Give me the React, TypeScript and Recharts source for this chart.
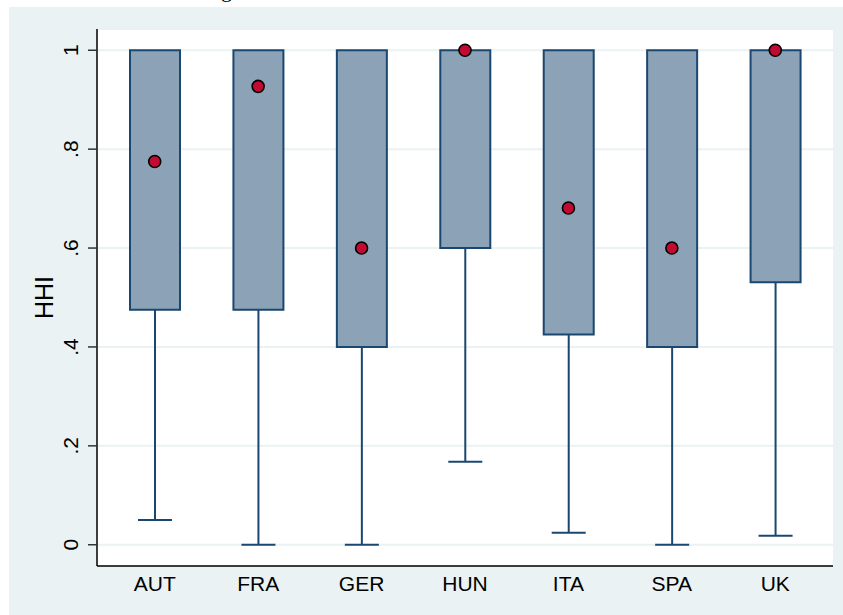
import React from "react";
import {
  Bar,
  CartesianGrid,
  ComposedChart,
  Scatter,
  XAxis,
  YAxis,
} from "recharts";

// HHI distribution by country (box = q1..q3, whisker down to min, red dot = marker value)
const countries = ["AUT", "FRA", "GER", "HUN", "ITA", "SPA", "UK"];
const minValues = [0.05, 0, 0, 0.168, 0.024, 0, 0.018];
const q1Values = [0.475, 0.475, 0.4, 0.6, 0.425, 0.4, 0.531];
const q3Values = [1, 1, 1, 1, 1, 1, 1];
const maxValues = [1, 1, 1, 1, 1, 1, 1];
const dotValues = [0.775, 0.927, 0.6, 1, 0.681, 0.6, 1];
const yTicks = [0, 0.2, 0.4, 0.6, 0.8, 1];

const data = countries.map((name, i) => ({
  name,
  base: minValues[i],
  lower: q1Values[i] - minValues[i],
  box: q3Values[i] - q1Values[i],
  upper: maxValues[i] - q3Values[i],
  dot: dotValues[i],
}));

const FONT = "'Liberation Sans', Arial, sans-serif";
const NAVY = "#1A476F";

const fmtTick = (v: number) => {
  if (v === 0) return "0";
  if (v === 1) return "1";
  return v.toFixed(1).replace(/^0/, "");
};

const YTick = (props: any) => {
  const { x, y, payload } = props;
  const tx = x - 8;
  return (
    <text
      x={tx}
      y={y}
      transform={`rotate(-90, ${tx}, ${y})`}
      textAnchor="middle"
      fontSize={21}
      fontFamily={FONT}
      fill="#000"
    >
      {fmtTick(payload.value)}
    </text>
  );
};

const HhiLabel = (props: any) => {
  const vb = props.viewBox || { x: 0, y: 29, width: 97, height: 537 };
  const cx = vb.x + 53;
  const cy = vb.y + vb.height / 2;
  return (
    <text
      x={cx}
      y={cy}
      transform={`rotate(-90, ${cx}, ${cy})`}
      textAnchor="middle"
      fontSize={25}
      fontFamily={FONT}
      fill="#000"
    >
      HHI
    </text>
  );
};

// whisker: vertical line from box edge down to the cap
const LowerWhisker = (props: any) => {
  const { x, y, width, height } = props;
  if (!height || height <= 0) return null;
  const cx = x + width / 2;
  return (
    <g stroke={NAVY} strokeWidth={2}>
      <line x1={cx} x2={cx} y1={y} y2={y + height} />
      <line x1={cx - 17} x2={cx + 17} y1={y + height} y2={y + height} />
    </g>
  );
};

const UpperWhisker = (props: any) => {
  const { x, y, width, height } = props;
  if (!height || height <= 0) return null;
  const cx = x + width / 2;
  return (
    <g stroke={NAVY} strokeWidth={2}>
      <line x1={cx} x2={cx} y1={y} y2={y + height} />
      <line x1={cx - 17} x2={cx + 17} y1={y} y2={y} />
    </g>
  );
};

const Dot = (props: any) => {
  const { cx, cy } = props;
  return <circle cx={cx} cy={cy} r={6} fill="#C30A34" stroke="#000" strokeWidth={1.6} />;
};

export default function App() {
  return (
    <div
      style={{
        position: "absolute",
        left: 0,
        top: 0,
        width: 843,
        height: 615,
        overflow: "hidden",
        background: "#fff",
      }}
    >
      {/* title of the page above the graph, only its descender shows */}
      <span
        style={{
          position: "absolute",
          left: 221,
          top: -21,
          fontSize: 22,
          lineHeight: "22px",
          color: "#000",
          fontFamily: "'Liberation Serif', serif",
        }}
      >
        g
      </span>
      <div
        style={{
          position: "absolute",
          left: 9,
          top: 7,
          right: 0,
          bottom: 0,
          background: "#EAF2F3",
        }}
      />
      <div style={{ position: "absolute", left: 0, top: 0 }}>
        <ComposedChart
          width={843}
          height={615}
          data={data}
          margin={{ top: 29, right: 10, left: 0, bottom: 0 }}
        >
          <CartesianGrid
            vertical={false}
            fill="#fff"
            stroke="#EAF2F3"
            strokeWidth={2}
          />
          <XAxis
            dataKey="name"
            height={49}
            padding={{ left: 6, right: 6 }}
            tickLine={false}
            tickMargin={4}
            axisLine={{ stroke: "#000", strokeWidth: 1.5 }}
            tick={{ fontSize: 21, fontFamily: FONT, fill: "#000" }}
          />
          <YAxis
            width={97}
            type="number"
            domain={[-0.043, 1.043]}
            ticks={yTicks}
            allowDataOverflow
            tickSize={9}
            axisLine={{ stroke: "#000", strokeWidth: 1.5 }}
            tickLine={{ stroke: "#333", strokeWidth: 1.5 }}
            tick={<YTick />}
            label={<HhiLabel />}
          />
          <Bar dataKey="base" stackId="b" fill="none" barSize={50} isAnimationActive={false} />
          <Bar
            dataKey="lower"
            stackId="b"
            barSize={50}
            shape={<LowerWhisker />}
            isAnimationActive={false}
          />
          <Bar
            dataKey="box"
            stackId="b"
            barSize={50}
            fill="#8CA3B7"
            stroke={NAVY}
            strokeWidth={2}
            isAnimationActive={false}
          />
          <Bar
            dataKey="upper"
            stackId="b"
            barSize={50}
            shape={<UpperWhisker />}
            isAnimationActive={false}
          />
          <Scatter dataKey="dot" shape={<Dot />} isAnimationActive={false} />
        </ComposedChart>
      </div>
    </div>
  );
}
